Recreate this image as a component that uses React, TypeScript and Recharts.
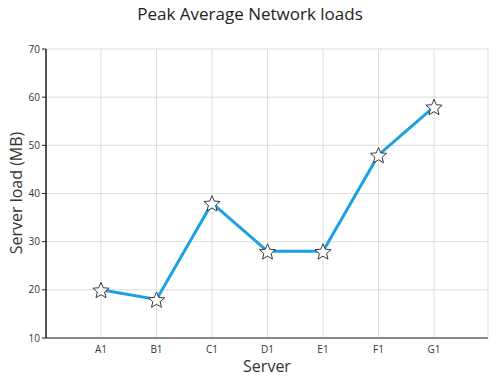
import React from 'react';
import { LineChart, Line, XAxis, YAxis, CartesianGrid } from 'recharts';

const servers = ['A1', 'B1', 'C1', 'D1', 'E1', 'F1', 'G1'];
const loads = [20, 18, 38, 28, 28, 48, 58];
const yTicks = [10, 20, 30, 40, 50, 60, 70];

const data = servers.map((s, i) => ({ server: s, load: loads[i] }));

const font = '"Open Sans", "Noto Sans", sans-serif';

// five point star marker
const StarDot = (props: any) => {
  const { cx, cy } = props;
  if (cx == null || cy == null) return null;
  const outer = 8.5;
  const inner = 3.8;
  const pts: string[] = [];
  for (let i = 0; i < 10; i++) {
    const r = i % 2 === 0 ? outer : inner;
    const a = -Math.PI / 2 + (i * Math.PI) / 5;
    pts.push(`${cx + r * Math.cos(a)},${cy + 1 + r * Math.sin(a)}`);
  }
  return <polygon points={pts.join(' ')} fill="#fff" stroke="#3a3a3a" strokeWidth={1} />;
};

const App: React.FC = () => {
  return (
    <div style={{ position: 'absolute', top: 0, left: 0, width: 500, height: 378, background: '#fff', fontFamily: font, overflow: 'hidden' }}>
      <div style={{ position: 'absolute', top: 3, left: 0, width: 500, textAlign: 'center', fontSize: 17, color: '#222', lineHeight: '22px' }}>
        Peak Average Network loads
      </div>
      <LineChart width={500} height={378} data={data} margin={{ top: 49, right: 12, bottom: 0, left: 0 }}>
        <CartesianGrid stroke="#dddddd" strokeWidth={1} />
        <XAxis
          dataKey="server"
          height={40}
          padding={{ left: 55, right: 54 }}
          tickLine={false}
          axisLine={{ stroke: '#222', strokeWidth: 1 }}
          tick={{ fontSize: 10, fill: '#333', fontFamily: font }}
          tickMargin={2}
        />
        <YAxis
          width={46}
          domain={[10, 70]}
          ticks={yTicks}
          interval={0}
          tickSize={4}
          tickLine={{ stroke: '#222' }}
          axisLine={{ stroke: '#222', strokeWidth: 1.5 }}
          tick={{ fontSize: 10, fill: '#333', fontFamily: font }}
          tickMargin={2}
        />
        <Line
          type="linear"
          dataKey="load"
          stroke="#1ba1e2"
          strokeWidth={3}
          dot={<StarDot />}
          activeDot={false}
          isAnimationActive={false}
        />
      </LineChart>
      <div style={{ position: 'absolute', left: 217, width: 100, top: 356, textAlign: 'center', fontSize: 16, color: '#333', lineHeight: '20px' }}>
        Server
      </div>
      <div
        style={{
          position: 'absolute', left: 16, top: 193, width: 160, textAlign: 'center', fontSize: 16, color: '#333',
          lineHeight: '20px', transform: 'translate(-50%, -50%) rotate(-90deg)', whiteSpace: 'nowrap',
        }}
      >
        Server load (MB)
      </div>
    </div>
  );
};

export default App;
